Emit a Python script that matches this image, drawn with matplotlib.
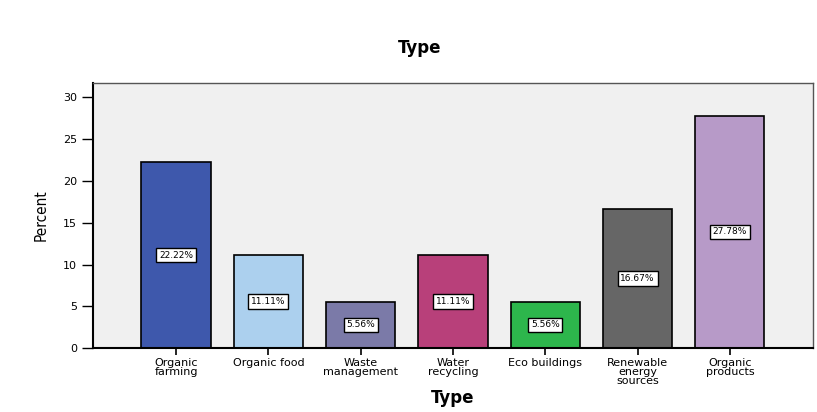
import matplotlib.pyplot as plt

categories = ["Organic\nfarming", "Organic food", "Waste\nmanagement", "Water\nrecycling",
              "Eco buildings", "Renewable\nenergy\nsources", "Organic\nproducts"]
percents = [22.22, 11.11, 5.56, 11.11, 5.56, 16.67, 27.78]
colors = ["#3e58ac", "#acd0ee", "#7b7aa8", "#b8407a", "#2db64c", "#666666", "#b79ac8"]
yticks = [0, 5, 10, 15, 20, 25, 30]

fig = plt.figure(figsize=(8.17, 4.12), dpi=100)
ax = fig.add_axes([0.1138, 0.155, 0.8812, 0.6435])
ax.set_facecolor("#f0f0f0")

x = list(range(len(categories)))
bars = ax.bar(x, percents, width=0.75, color=colors, edgecolor="black", linewidth=1.2)

# percentage labels in the middle of each bar
for xi, p in zip(x, percents):
    ax.text(xi, p / 2, f"{p:.2f}%", ha="center", va="center", fontsize=6.5,
            bbox=dict(boxstyle="square,pad=0.3", facecolor="white", edgecolor="black", linewidth=1))

ax.set_xlim(-0.9, len(categories) - 0.1)
ax.set_ylim(0, 31.7)
ax.set_yticks(yticks)
ax.set_xticks(x)
ax.set_xticklabels(categories, fontsize=8, linespacing=0.9)
ax.tick_params(axis="y", labelsize=8, length=8, width=1, direction="out")
ax.tick_params(axis="x", length=5, width=1.2, direction="out", pad=2)

for side in ["left", "bottom"]:
    ax.spines[side].set_linewidth(1.5)
    ax.spines[side].set_color("black")
for side in ["top", "right"]:
    ax.spines[side].set_linewidth(1)
    ax.spines[side].set_color("#555555")

ax.set_ylabel("Percent", fontsize=11, fontfamily="DejaVu Sans", fontstretch="condensed", labelpad=10)
ax.set_xlabel("Type", fontsize=12, fontweight="bold", labelpad=2)
fig.text(420 / 817, 1 - 48 / 412, "Type", fontsize=12, fontweight="bold", ha="center", va="center")

fig.savefig("out.png", dpi=100)
